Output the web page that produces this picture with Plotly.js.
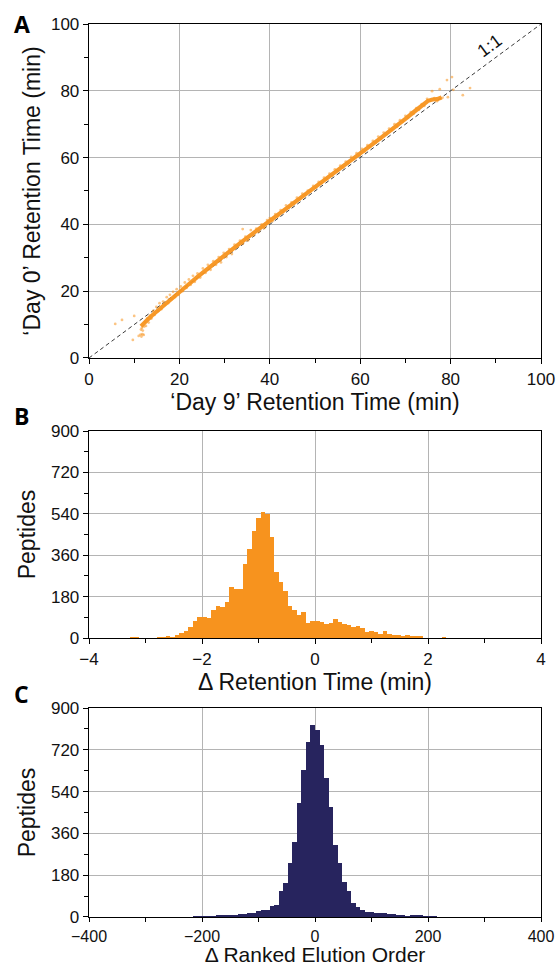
<!DOCTYPE html>
<html>
<head>
<meta charset="utf-8">
<script src="https://cdn.plot.ly/plotly-3.0.1.min.js"></script>
<style>html,body{margin:0;padding:0;background:#fff;}#chart{width:560px;height:966px;}</style>
</head>
<body>
<div id="chart"></div>
<script>
// ---------- Panel A: retention time scatter ----------
const diagX = [0, 100];
const diagY = [0, 100];
// dense band centre (Day 9 RT, Day 0 RT)
const bandX = [11.5, 12, 13, 14, 15, 16, 18, 20, 22, 24, 26, 28, 30, 32, 34, 36, 38, 40, 42, 44, 46, 48, 50, 52, 54, 56, 58, 60, 62, 64, 66, 68, 70, 72, 74, 75, 76, 77, 78];
const bandY = [9.5, 10.3, 11.5, 12.8, 14.0, 15.2, 17.5, 19.8, 22.0, 24.3, 26.5, 28.7, 30.8, 32.9, 35.0, 37.0, 39.0, 41.0, 43.0, 45.1, 47.1, 49.1, 51.1, 53.1, 55.1, 57.2, 59.2, 61.2, 63.3, 65.3, 67.4, 69.4, 71.6, 73.8, 76.0, 77.0, 77.4, 77.5, 78.0];
// individual peptides read around the band
const ptsX = [5.8, 7.3, 10.0, 9.7, 11.0, 11.4, 11.8, 12.1, 11.6, 11.5, 11.7, 11.9, 12.2, 12.4, 12.6, 12.9, 13.2, 13.5, 13.8, 14.2, 14.5, 14.9, 15.3, 15.6, 16.0, 16.4, 16.8, 17.2, 17.5, 17.9, 18.3, 18.6, 19.0, 19.4, 19.8, 20.3, 20.7, 21.2, 21.6, 22.1, 22.5, 23.0, 23.4, 24.0, 24.6, 25.2, 25.8, 26.3, 26.9, 27.5, 28.1, 28.7, 29.2, 29.8, 30.4, 31.0, 31.6, 32.2, 32.8, 33.4, 34.0, 34.6, 35.2, 35.8, 36.4, 37.0, 37.6, 38.2, 38.8, 39.4, 40.0, 40.6, 41.2, 41.8, 42.4, 43.0, 43.6, 44.2, 44.8, 45.4, 46.0, 46.6, 47.2, 47.8, 48.4, 49.0, 49.6, 50.2, 50.8, 51.4, 52.0, 52.6, 53.2, 53.8, 54.4, 55.0, 55.6, 56.2, 56.8, 57.4, 58.0, 58.6, 59.2, 59.8, 60.4, 61.0, 61.6, 62.2, 62.8, 63.4, 64.0, 64.6, 65.2, 65.8, 66.4, 67.0, 67.6, 68.2, 68.8, 69.4, 70.0, 70.6, 71.2, 71.8, 72.4, 73.0, 73.6, 74.2, 74.8, 75.4, 75.9, 76.4, 77.0, 77.6, 78.2, 79.2, 79.4, 80.3, 80.6, 82.7, 84.3, 34.0];
const ptsY = [10.2, 11.4, 12.6, 5.4, 6.6, 7.0, 7.1, 6.9, 6.4, 8.5, 9.0, 8.2, 9.4, 10.8, 9.6, 11.9, 10.6, 12.7, 11.8, 14.1, 12.9, 15.3, 14.0, 16.4, 14.6, 16.9, 15.9, 18.2, 16.4, 18.9, 17.6, 19.8, 18.2, 20.6, 18.9, 21.4, 20.0, 22.6, 21.0, 23.5, 21.9, 24.6, 22.8, 25.3, 24.1, 26.8, 25.5, 27.9, 26.4, 29.0, 27.9, 30.2, 28.6, 31.5, 30.2, 32.6, 31.1, 33.9, 33.4, 35.1, 34.2, 36.3, 35.2, 38.3, 36.7, 38.7, 37.8, 40.0, 38.9, 41.3, 41.9, 41.0, 43.1, 42.4, 44.3, 43.7, 45.7, 45.0, 46.6, 46.2, 48.0, 47.5, 49.2, 48.9, 50.1, 49.8, 51.5, 51.0, 52.7, 52.3, 54.0, 53.5, 55.2, 54.6, 56.5, 55.9, 57.6, 57.0, 58.8, 58.3, 60.2, 59.6, 61.3, 60.6, 62.6, 61.8, 63.7, 63.2, 65.0, 64.4, 66.3, 65.6, 67.5, 66.9, 68.7, 68.2, 70.0, 69.3, 71.2, 70.8, 72.5, 71.9, 73.6, 73.1, 74.8, 74.3, 76.0, 75.5, 77.6, 77.0, 79.9, 77.8, 76.9, 80.5, 77.9, 83.2, 78.1, 84.1, 80.3, 78.7, 80.8, 38.6];

// ---------- Panel B: Δ retention time histogram (bin width 0.08 min) ----------
const bLeft = [-3.36, -3.28, -3.20, -3.12, -2.88, -2.80, -2.72, -2.64, -2.56, -2.48, -2.40, -2.32, -2.24, -2.16, -2.08,
  -2.00, -1.92, -1.84, -1.76, -1.68, -1.60, -1.52, -1.44, -1.36, -1.28, -1.20, -1.12, -1.04, -0.96, -0.88, -0.80, -0.72, -0.64, -0.56, -0.48, -0.40, -0.32, -0.24, -0.16, -0.08,
  0.00, 0.08, 0.16, 0.24, 0.32, 0.40, 0.48, 0.56, 0.64, 0.72, 0.80, 0.88, 0.96, 1.04, 1.12, 1.20, 1.28, 1.36, 1.44, 1.52, 1.60, 1.68, 1.76, 1.84, 1.92, 2.00, 2.08, 2.16, 2.24, 2.32, 2.40, 2.48, 2.56, 2.64];
const bCount = [2, 3, 5, 1, 1, 3, 3, 10, 4, 15, 23, 30, 48, 74, 91,
  91, 86, 120, 141, 135, 155, 224, 212, 213, 322, 386, 464, 522, 549, 538, 440, 287, 242, 206, 139, 120, 100, 115, 64, 73,
  74, 71, 61, 65, 83, 68, 61, 55, 48, 51, 42, 28, 30, 28, 19, 30, 19, 15, 12, 9, 12, 7, 7, 7, 2, 1, 1, 2, 3, 1, 1, 1, 2, 1];

// ---------- Panel C: Δ ranked elution order histogram (bin width 8) ----------
const cLeft = [-296, -288, -280, -272, -264, -256, -248, -240, -232, -224, -216, -208, -200, -192, -184, -176, -168, -160, -152, -144, -136, -128, -120, -112, -104, -96, -88, -80, -72, -64, -56, -48, -40, -32, -24, -16, -8,
  0, 8, 16, 24, 32, 40, 48, 56, 64, 72, 80, 88, 96, 104, 112, 120, 128, 136, 144, 152, 160, 168, 176, 184, 192, 200, 208, 216, 224, 232, 240];
const cCount = [1, 1, 1, 1, 2, 1, 2, 2, 1, 2, 3, 6, 4, 4, 6, 9, 10, 9, 9, 10, 12, 14, 16, 19, 26, 32, 29, 48, 51, 113, 147, 232, 324, 491, 631, 752, 829,
  807, 742, 597, 475, 312, 232, 149, 110, 60, 45, 29, 22, 20, 19, 16, 16, 13, 12, 9, 7, 4, 9, 10, 10, 6, 3, 3, 2, 1, 1, 1];

// tick labels
const aTicks = [0, 20, 40, 60, 80, 100];
const bxTicks = [-4, -2, 0, 2, 4];
const cxTicks = [-400, -200, 0, 200, 400];
const hyTicks = [0, 180, 360, 540, 720, 900];

const ORANGE = '#f7931e';
const NAVY = '#27245e';
const FONT = "'Liberation Sans', Arial, Helvetica, sans-serif";

const traces = [
  {x: diagX, y: diagY, xaxis: 'x', yaxis: 'y', mode: 'lines', line: {color: '#3a3a3a', width: 1, dash: '4px,3px'}, hoverinfo: 'skip'},
  {x: ptsX, y: ptsY, xaxis: 'x', yaxis: 'y', mode: 'markers', marker: {color: ORANGE, size: 2.8, opacity: 0.55}},
  {x: bandX, y: bandY, xaxis: 'x', yaxis: 'y', mode: 'lines', line: {color: ORANGE, width: 4.2}, opacity: 0.95},
  {type: 'bar', x: bLeft, y: bCount, xaxis: 'x2', yaxis: 'y2', width: 0.08, offset: 0, marker: {color: ORANGE, line: {width: 0}}},
  {type: 'bar', x: cLeft, y: cCount, xaxis: 'x3', yaxis: 'y3', width: 8, offset: 0, marker: {color: NAVY, line: {width: 0}}}
];

const axBase = {
  showgrid: true, gridcolor: '#b4b4b4', gridwidth: 1,
  zeroline: false, showline: true, linecolor: '#000', linewidth: 1.3, mirror: true,
  ticks: 'outside', ticklen: 5, tickwidth: 1, tickcolor: '#000',
  tickfont: {family: FONT, size: 17, color: '#111'},
  tickmode: 'array'
};
function ax(extra) { return Object.assign({}, JSON.parse(JSON.stringify(axBase)), extra); }
const titleFont = {family: FONT, size: 23, color: '#111'};
const minorOf = d => ({dtick: d, tick0: 0, ticks: 'outside', ticklen: 4, tickcolor: '#000', showgrid: false});

const layout = {
  width: 560, height: 966,
  margin: {l: 89, r: 19, t: 24, b: 49},
  paper_bgcolor: '#fff', plot_bgcolor: '#fff',
  showlegend: false, bargap: 0,
  xaxis: ax({domain: [0, 1], anchor: 'y', range: [0, 100], tickvals: aTicks, minor: minorOf(10),
    title: {text: '‘Day 9’ Retention Time (min)', font: titleFont, standoff: 0}}),
  yaxis: ax({domain: [0.626, 1], anchor: 'x', range: [0, 100], tickvals: aTicks, minor: minorOf(10),
    title: {text: '‘Day 0’ Retention Time (min)', font: titleFont, standoff: 4}}),
  xaxis2: ax({domain: [0, 1], anchor: 'y2', range: [-4, 4], tickvals: bxTicks, minor: minorOf(1),
    title: {text: 'Δ Retention Time (min)', font: titleFont, standoff: 0}}),
  yaxis2: ax({domain: [0.3124, 0.5442], anchor: 'x2', range: [0, 900], tickvals: hyTicks, minor: minorOf(90),
    title: {text: 'Peptides', font: titleFont, standoff: 9}}),
  xaxis3: ax({domain: [0, 1], anchor: 'y3', range: [-400, 400], tickvals: cxTicks, minor: minorOf(100), ticklen: 4,
    tickfont: {family: FONT, size: 16, color: '#111'},
    title: {text: 'Δ Ranked Elution Order', font: Object.assign({}, titleFont, {size: 21}), standoff: 2}}),
  yaxis3: ax({domain: [0, 0.234], anchor: 'x3', range: [0, 900], tickvals: hyTicks, minor: minorOf(90),
    title: {text: 'Peptides', font: titleFont, standoff: 9}}),
  annotations: [
    {xref: 'x', yref: 'y', x: 88.5, y: 93.5, text: '1:1', showarrow: false, textangle: -36.5,
      font: {family: FONT, size: 18, color: '#111'}},
    {xref: 'paper', yref: 'paper', x: -0.17, y: 1.0, xanchor: 'left', yanchor: 'middle', text: '<b>A</b>', showarrow: false,
      font: {family: "'Open Sans', 'Liberation Sans', sans-serif", size: 23, color: '#000'}},
    {xref: 'paper', yref: 'paper', x: -0.17, y: 0.561, xanchor: 'left', yanchor: 'middle', text: '<b>B</b>', showarrow: false,
      font: {family: "'Open Sans', 'Liberation Sans', sans-serif", size: 23, color: '#000'}},
    {xref: 'paper', yref: 'paper', x: -0.17, y: 0.2497, xanchor: 'left', yanchor: 'middle', text: '<b>C</b>', showarrow: false,
      font: {family: "'Open Sans', 'Liberation Sans', sans-serif", size: 23, color: '#000'}}
  ]
};

Plotly.newPlot('chart', traces, layout, {staticPlot: true, displayModeBar: false});
</script>
</body>
</html>
